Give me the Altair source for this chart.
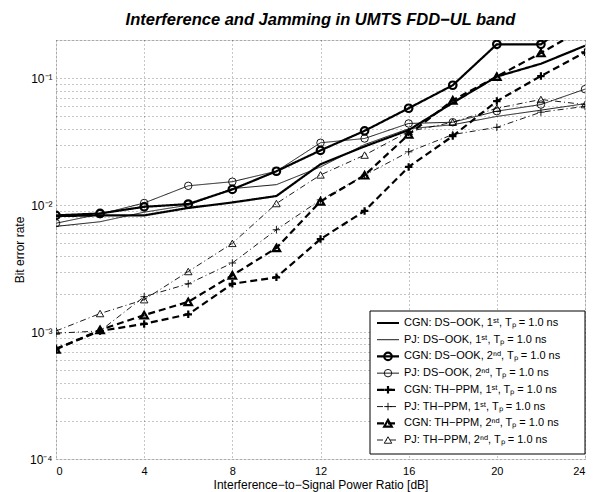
import altair as alt
import pandas as pd

# ---------------- data ----------------
x_db = [0, 2, 4, 6, 8, 10, 12, 14, 16, 18, 20, 22, 24]

names = [
    "CGN DS-OOK 1st", "PJ DS-OOK 1st", "CGN DS-OOK 2nd", "PJ DS-OOK 2nd",
    "CGN TH-PPM 1st", "PJ TH-PPM 1st", "CGN TH-PPM 2nd", "PJ TH-PPM 2nd",
]
labels = [
    "CGN: DS\u2212OOK, 1\u02e2\u1d57, T\u209a = 1.0 ns",
    "PJ: DS\u2212OOK, 1\u02e2\u1d57, T\u209a = 1.0 ns",
    "CGN: DS\u2212OOK, 2\u207f\u1d48, T\u209a = 1.0 ns",
    "PJ: DS\u2212OOK, 2\u207f\u1d48, T\u209a = 1.0 ns",
    "CGN: TH\u2212PPM, 1\u02e2\u1d57, T\u209a = 1.0 ns",
    "PJ: TH\u2212PPM, 1\u02e2\u1d57, T\u209a = 1.0 ns",
    "CGN: TH\u2212PPM, 2\u207f\u1d48, T\u209a = 1.0 ns",
    "PJ: TH\u2212PPM, 2\u207f\u1d48, T\u209a = 1.0 ns",
]

cgn_ds_1 = [0.0082, 0.0083, 0.0083, 0.0095, 0.0105, 0.0118, 0.021, 0.029, 0.039, 0.064, 0.103, 0.13, 0.18]
pj_ds_1 = [0.0068, 0.0074, 0.0088, 0.0100, 0.0135, 0.0145, 0.020, 0.030, 0.040, 0.043, 0.050, 0.056, 0.063]
cgn_ds_2 = [0.0083, 0.0086, 0.0097, 0.0102, 0.0133, 0.0185, 0.027, 0.0385, 0.058, 0.088, 0.185, 0.185, 0.33]
pj_ds_2 = [0.0072, 0.0085, 0.0104, 0.0142, 0.0153, 0.0185, 0.031, 0.0335, 0.044, 0.045, 0.055, 0.062, 0.082]
cgn_th_1 = [0.00074, 0.00102, 0.00116, 0.00138, 0.0024, 0.0027, 0.0054, 0.0090, 0.020, 0.035, 0.066, 0.104, 0.16]
pj_th_1 = [0.00098, 0.00102, 0.0019, 0.0024, 0.0035, 0.0064, 0.011, 0.0172, 0.0263, 0.036, 0.041, 0.054, 0.060]
cgn_th_2 = [0.00073, 0.00104, 0.00136, 0.00173, 0.0028, 0.0046, 0.0107, 0.0172, 0.036, 0.067, 0.103, 0.158, 0.25]
pj_th_2 = [0.00102, 0.0014, 0.0018, 0.0030, 0.0050, 0.0103, 0.0173, 0.0248, 0.038, 0.045, 0.058, 0.068, 0.062]

series_values = [cgn_ds_1, pj_ds_1, cgn_ds_2, pj_ds_2, cgn_th_1, pj_th_1, cgn_th_2, pj_th_2]

x_ticks = [0, 4, 8, 12, 16, 20, 24]
y_grid = [round(m * 10.0 ** e, 6) for e in (-4, -3, -2) for m in range(1, 10)] + [0.1, 0.2]

# ---------------- styles ----------------
dashes = [[1, 0], [1, 0], [1, 0], [1, 0], [7, 4], [6, 3, 1, 3], [7, 4], [6, 3, 1, 3]]
thick_names = [n for n in names if n.startswith("CGN")]
thin_names = [n for n in names if n.startswith("PJ")]
THICK, THIN = 2.2, 0.9
plus = "M-1,0L1,0M0,-1L0,1"
marker_names = names[2:]
marker_shapes = ["circle", "circle", plus, plus, "triangle-up", "triangle-up"]

FONT = "Liberation Sans"

rows = []
for n, vals in zip(names, series_values):
    for xv, yv in zip(x_db, vals):
        rows.append({"series": n, "x": xv, "ber": yv})
df = pd.DataFrame(rows)

dash_scale = alt.Scale(domain=names, range=dashes)
shape_scale = alt.Scale(domain=marker_names, range=marker_shapes)

xs = alt.Scale(domain=[0, 24], nice=False, zero=False)
ys = alt.Scale(type="log", domain=[1e-4, 0.2], nice=False)

label_expr = ("datum.value == 0.0001 ? '10\u207b\u2074' : datum.value == 0.001 ? '10\u207b\u00b3' : "
              "datum.value == 0.01 ? '10\u207b\u00b2' : datum.value == 0.1 ? '10\u207b\u00b9' : ''")

x_enc = alt.X("x:Q", scale=xs, axis=alt.Axis(
    values=x_ticks, title="Interference\u2212to\u2212Signal Power Ratio [dB]",
    grid=True, gridDash=[1, 3], gridColor="#000", gridOpacity=0.45,
    ticks=False, domain=False, labelPadding=6, titlePadding=3,
    titleFontWeight="normal", labelFontSize=11, titleFontSize=12))
y_enc = alt.Y("ber:Q", scale=ys, axis=alt.Axis(
    values=y_grid, labelExpr=label_expr, title="Bit error rate",
    grid=True, gridDash=[1, 3], gridColor="#000", gridOpacity=0.45,
    ticks=False, domain=False, labelPadding=4, titlePadding=3,
    titleFontWeight="normal", labelFontSize=12, titleFontSize=12))


def line_layer(subset, width, first=False):
    d = df[df["series"].isin(subset)]
    return alt.Chart(d).mark_line(clip=True, color="black", strokeWidth=width).encode(
        x=x_enc if first else alt.X("x:Q", scale=xs),
        y=y_enc if first else alt.Y("ber:Q", scale=ys),
        detail="series:N", order="x:Q",
        strokeDash=alt.StrokeDash("series:N", scale=dash_scale, legend=None),
    )


def point_layer(subset, width):
    d = df[df["series"].isin([n for n in subset if n in marker_names])]
    return alt.Chart(d).mark_point(clip=True, filled=False, color="black", opacity=1,
                                   size=56, strokeWidth=width).encode(
        x=alt.X("x:Q", scale=xs), y=alt.Y("ber:Q", scale=ys),
        shape=alt.Shape("series:N", scale=shape_scale, legend=None),
    )


main = alt.layer(
    line_layer(thin_names, THIN, first=True),
    point_layer(thin_names, THIN),
    line_layer(thick_names, THICK),
    point_layer(thick_names, THICK),
)

# ---------------- legend ----------------
leg_df = pd.DataFrame({"series": names, "label": labels, "row": list(range(8))})
leg_y = alt.Y("row:O", scale=alt.Scale(type="point", range=[283, 400], padding=0), axis=None)


def leg_rule(subset, width):
    return alt.Chart(leg_df[leg_df["series"].isin(subset)]).mark_rule(color="black", strokeWidth=width).encode(
        x=alt.value(321), x2=alt.value(343), y=leg_y,
        strokeDash=alt.StrokeDash("series:N", scale=dash_scale, legend=None))


def leg_pts(subset, width):
    d = leg_df[leg_df["series"].isin([n for n in subset if n in marker_names])]
    return alt.Chart(d).mark_point(filled=False, color="black", opacity=1, size=56, strokeWidth=width).encode(
        x=alt.value(332), y=leg_y,
        shape=alt.Shape("series:N", scale=shape_scale, legend=None))


leg_box = alt.Chart(pd.DataFrame({"a": [0]})).mark_rect(fill="white", stroke="black", strokeWidth=1).encode(
    x=alt.value(314), x2=alt.value(529), y=alt.value(271), y2=alt.value(414))
leg_text = alt.Chart(leg_df).mark_text(align="left", baseline="middle", fontSize=11, font=FONT, color="black").encode(
    x=alt.value(348), y=leg_y, text="label:N")
legend = alt.layer(leg_box, leg_rule(thin_names, THIN), leg_pts(thin_names, THIN),
                   leg_rule(thick_names, THICK), leg_pts(thick_names, THICK), leg_text)

chart = alt.layer(main, legend).resolve_scale(y="independent").properties(
    width=529, height=419,
    autosize=alt.AutoSizeParams(type="none"),
    padding={"left": 48, "top": 32, "right": 7, "bottom": 33},
    title=alt.Title("Interference and Jamming in UMTS FDD\u2212UL band", fontSize=16.5, fontWeight="bold",
                    fontStyle="italic", font=FONT, anchor="middle", offset=12, color="black"),
).configure_view(stroke="black", strokeWidth=1).configure_axis(
    labelFont=FONT, titleFont=FONT, labelColor="black", titleColor="black",
).configure(background="white")

chart.save("out.html", embed_options={"renderer": "svg", "actions": False})
